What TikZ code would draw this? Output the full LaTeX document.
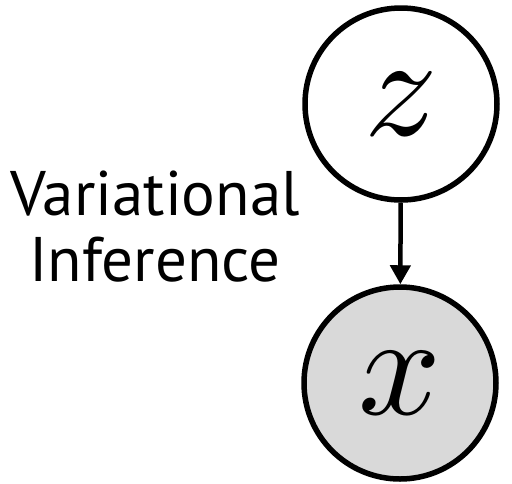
\documentclass[tikz,border=0pt]{standalone}
\usepackage{graphicx}
\usepackage{fontspec}
\newfontfamily\labelfont{PT Sans}
\usetikzlibrary{arrows.meta}
\newcommand{\bigsym}[1]{\scalebox{14.5}{$#1$}}
\begin{document}
\begin{tikzpicture}[x=1pt,y=-1pt,
  varnode/.style={circle,draw=black,line width=5.5pt,minimum size=192pt,inner sep=0pt},
  obsnode/.style={varnode,fill=black!15},
  edge/.style={line width=4.5pt,-{Triangle[length=19pt,width=20pt]}}]
\useasboundingbox (0,0) rectangle (512,483);
\node[varnode] (z) at (401,104) {\bigsym{z}};
\node[obsnode] (x) at (400,383) {\bigsym{x}};
\draw[edge] (z) -- (x);
\node[font=\labelfont\fontsize{63}{66}\selectfont,align=center,anchor=base] (vi) at (155,281) {Variational\\Inference};
\end{tikzpicture}
\end{document}
